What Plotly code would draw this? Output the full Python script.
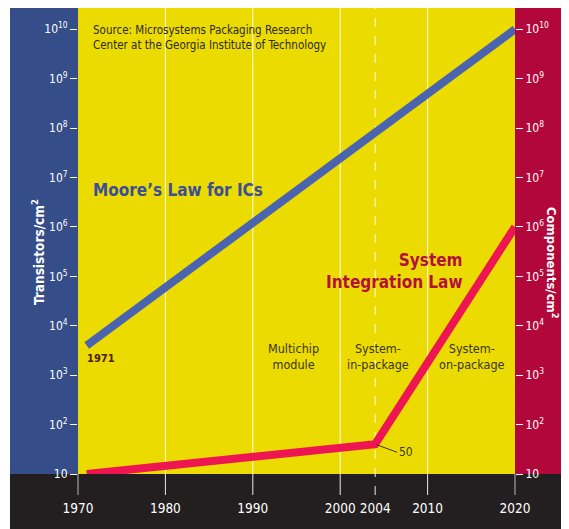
import math
import plotly.graph_objects as go

# ---------------- data ----------------
x_tick_years = [1970, 1980, 1990, 2000, 2004, 2010, 2020]
y_tick_exps = [1, 2, 3, 4, 5, 6, 7, 8, 9, 10]
y_tick_labels = ["10"] + [f"10<sup>{e}</sup>" for e in y_tick_exps[1:]]

moore_years = [1971, 2020]
moore_values = [4e3, 1e10]

sil_years = [1971, 2004, 2020]
sil_values = [10, 40, 1e6]

region_labels = ["Multichip<br>module", "System-<br>in-package", "System-<br>on-package"]

# ---------------- geometry / style ----------------
OFF = 8                      # page body margin
W, H = 569 - OFF, 529 - OFF  # figure size
L, R, T, B = 70, 54, 0, 55
PW, PH = W - L - R, H - T - B

def px(xp):  # reference-page pixel -> paper x
    return (xp - OFF - L) / PW

def py(yp):  # reference-page pixel -> paper y
    return (H - B - (yp - OFF)) / PH

FONT = "DejaVu Sans Condensed, Liberation Sans Narrow, sans-serif"
BLUE_PANEL = "#354d88"
YELLOW = "#ecdb00"
RED_PANEL = "#b2073b"
DARK = "#231f20"
MOORE_C = "#4a64b0"
SIL_C = "#ee1652"
XR = [1970, 2020]
YR = [1, 10.43]

fig = go.Figure()
fig.add_trace(go.Scatter(x=moore_years, y=moore_values, mode="lines",
                         line=dict(color=MOORE_C, width=8), hoverinfo="skip",
                         showlegend=False))
fig.add_trace(go.Scatter(x=sil_years, y=sil_values, mode="lines", yaxis="y2",
                         line=dict(color=SIL_C, width=8), hoverinfo="skip",
                         showlegend=False))

shapes = [
    dict(type="rect", xref="paper", yref="paper", x0=px(10), x1=0, y0=0, y1=py(6),
         fillcolor=BLUE_PANEL, line=dict(width=0), layer="below"),
    dict(type="rect", xref="paper", yref="paper", x0=1, x1=px(575), y0=0, y1=py(6),
         fillcolor=RED_PANEL, line=dict(width=0), layer="below"),
    dict(type="rect", xref="paper", yref="paper", x0=px(10), x1=px(575), y0=py(535), y1=0,
         fillcolor=DARK, line=dict(width=0), layer="below"),
]
for yr in x_tick_years:
    xf = (yr - XR[0]) / (XR[1] - XR[0])
    edge = yr in (XR[0], XR[1])
    shapes.append(dict(
        type="line", xref="paper", yref="paper", x0=xf, x1=xf,
        y0=py(495), y1=0 if edge else 1,
        line=dict(color="#b8b8b8" if edge else "rgba(255,255,255,0.9)", width=1,
                  dash="dash" if yr == 2004 else "solid"),
        layer="below"))

annotations = [
    dict(xref="paper", yref="paper", x=px(91), y=py(38), xanchor="left", yanchor="middle",
         align="left", showarrow=False,
         text="Source: Microsystems Packaging Research<br>Center at the Georgia Institute of Technology",
         font=dict(family=FONT, size=11.5, color="#2b2a1c")),
    dict(xref="paper", yref="paper", x=px(178), y=py(190), xanchor="center", yanchor="middle",
         showarrow=False, text="<b>Moore’s Law for ICs</b>",
         font=dict(family=FONT, size=17, color="#3b4f96")),
    dict(xref="paper", yref="paper", x=px(465), y=py(271), xanchor="right", yanchor="middle",
         align="right", showarrow=False, text="<b>System<br>Integration Law</b>",
         font=dict(family=FONT, size=17, color="#b3103e")),
    dict(x=moore_years[0], y=math.log10(moore_values[0]), xref="x", yref="y",
         xanchor="left", yanchor="top", xshift=-2, yshift=-5, showarrow=False,
         text="<b>1971</b>", font=dict(family=FONT, size=11, color="#4a2010")),
    dict(x=sil_years[1], y=math.log10(sil_values[1]), xref="x", yref="y2",
         ax=22, ay=8, showarrow=True, arrowhead=0, arrowwidth=1, arrowcolor="#3a3520",
         standoff=1, xanchor="left", text="50",
         font=dict(family=FONT, size=12, color="#3a3520")),
    dict(xref="paper", yref="paper", x=px(27), y=py(252), textangle=-90, showarrow=False,
         text="<b>Transistors/cm<sup>2</sup></b>", font=dict(family=FONT, size=13.5, color="white")),
    dict(xref="paper", yref="paper", x=px(562), y=py(262), textangle=90, showarrow=False,
         text="<b>Components/cm<sup>2</sup></b>", font=dict(family=FONT, size=13, color="white")),
]
for lab, xp in zip(region_labels, [293, 378, 472]):
    annotations.append(dict(xref="paper", yref="paper", x=px(xp), y=py(357),
                            xanchor="center", yanchor="middle", showarrow=False, text=lab,
                            font=dict(family=FONT, size=12.5, color="#3a3520")))

ytickvals = [10 ** e for e in y_tick_exps]
yaxis_common = dict(type="log", range=YR, tickvals=ytickvals, ticktext=y_tick_labels,
                    ticks="outside", ticklen=7, tickwidth=1, tickcolor="white",
                    tickfont=dict(family=FONT, size=12, color="white"),
                    showgrid=False, zeroline=False, showline=False, fixedrange=True)

fig.update_layout(
    width=W, height=H,
    margin=dict(l=L, r=R, t=T, b=B, pad=0),
    paper_bgcolor="white",
    plot_bgcolor=YELLOW,
    showlegend=False,
    xaxis=dict(range=XR, tickvals=x_tick_years, ticktext=[str(v) for v in x_tick_years],
               ticks="outside", ticklen=22, tickcolor="rgba(0,0,0,0)", tickangle=0,
               tickfont=dict(family=FONT, size=13.5, color="white"),
               showgrid=False, zeroline=False, showline=False, fixedrange=True),
    yaxis=dict(**yaxis_common, side="left"),
    yaxis2=dict(**yaxis_common, side="right", overlaying="y"),
    shapes=shapes,
    annotations=annotations,
)

fig.write_html("out.html")
